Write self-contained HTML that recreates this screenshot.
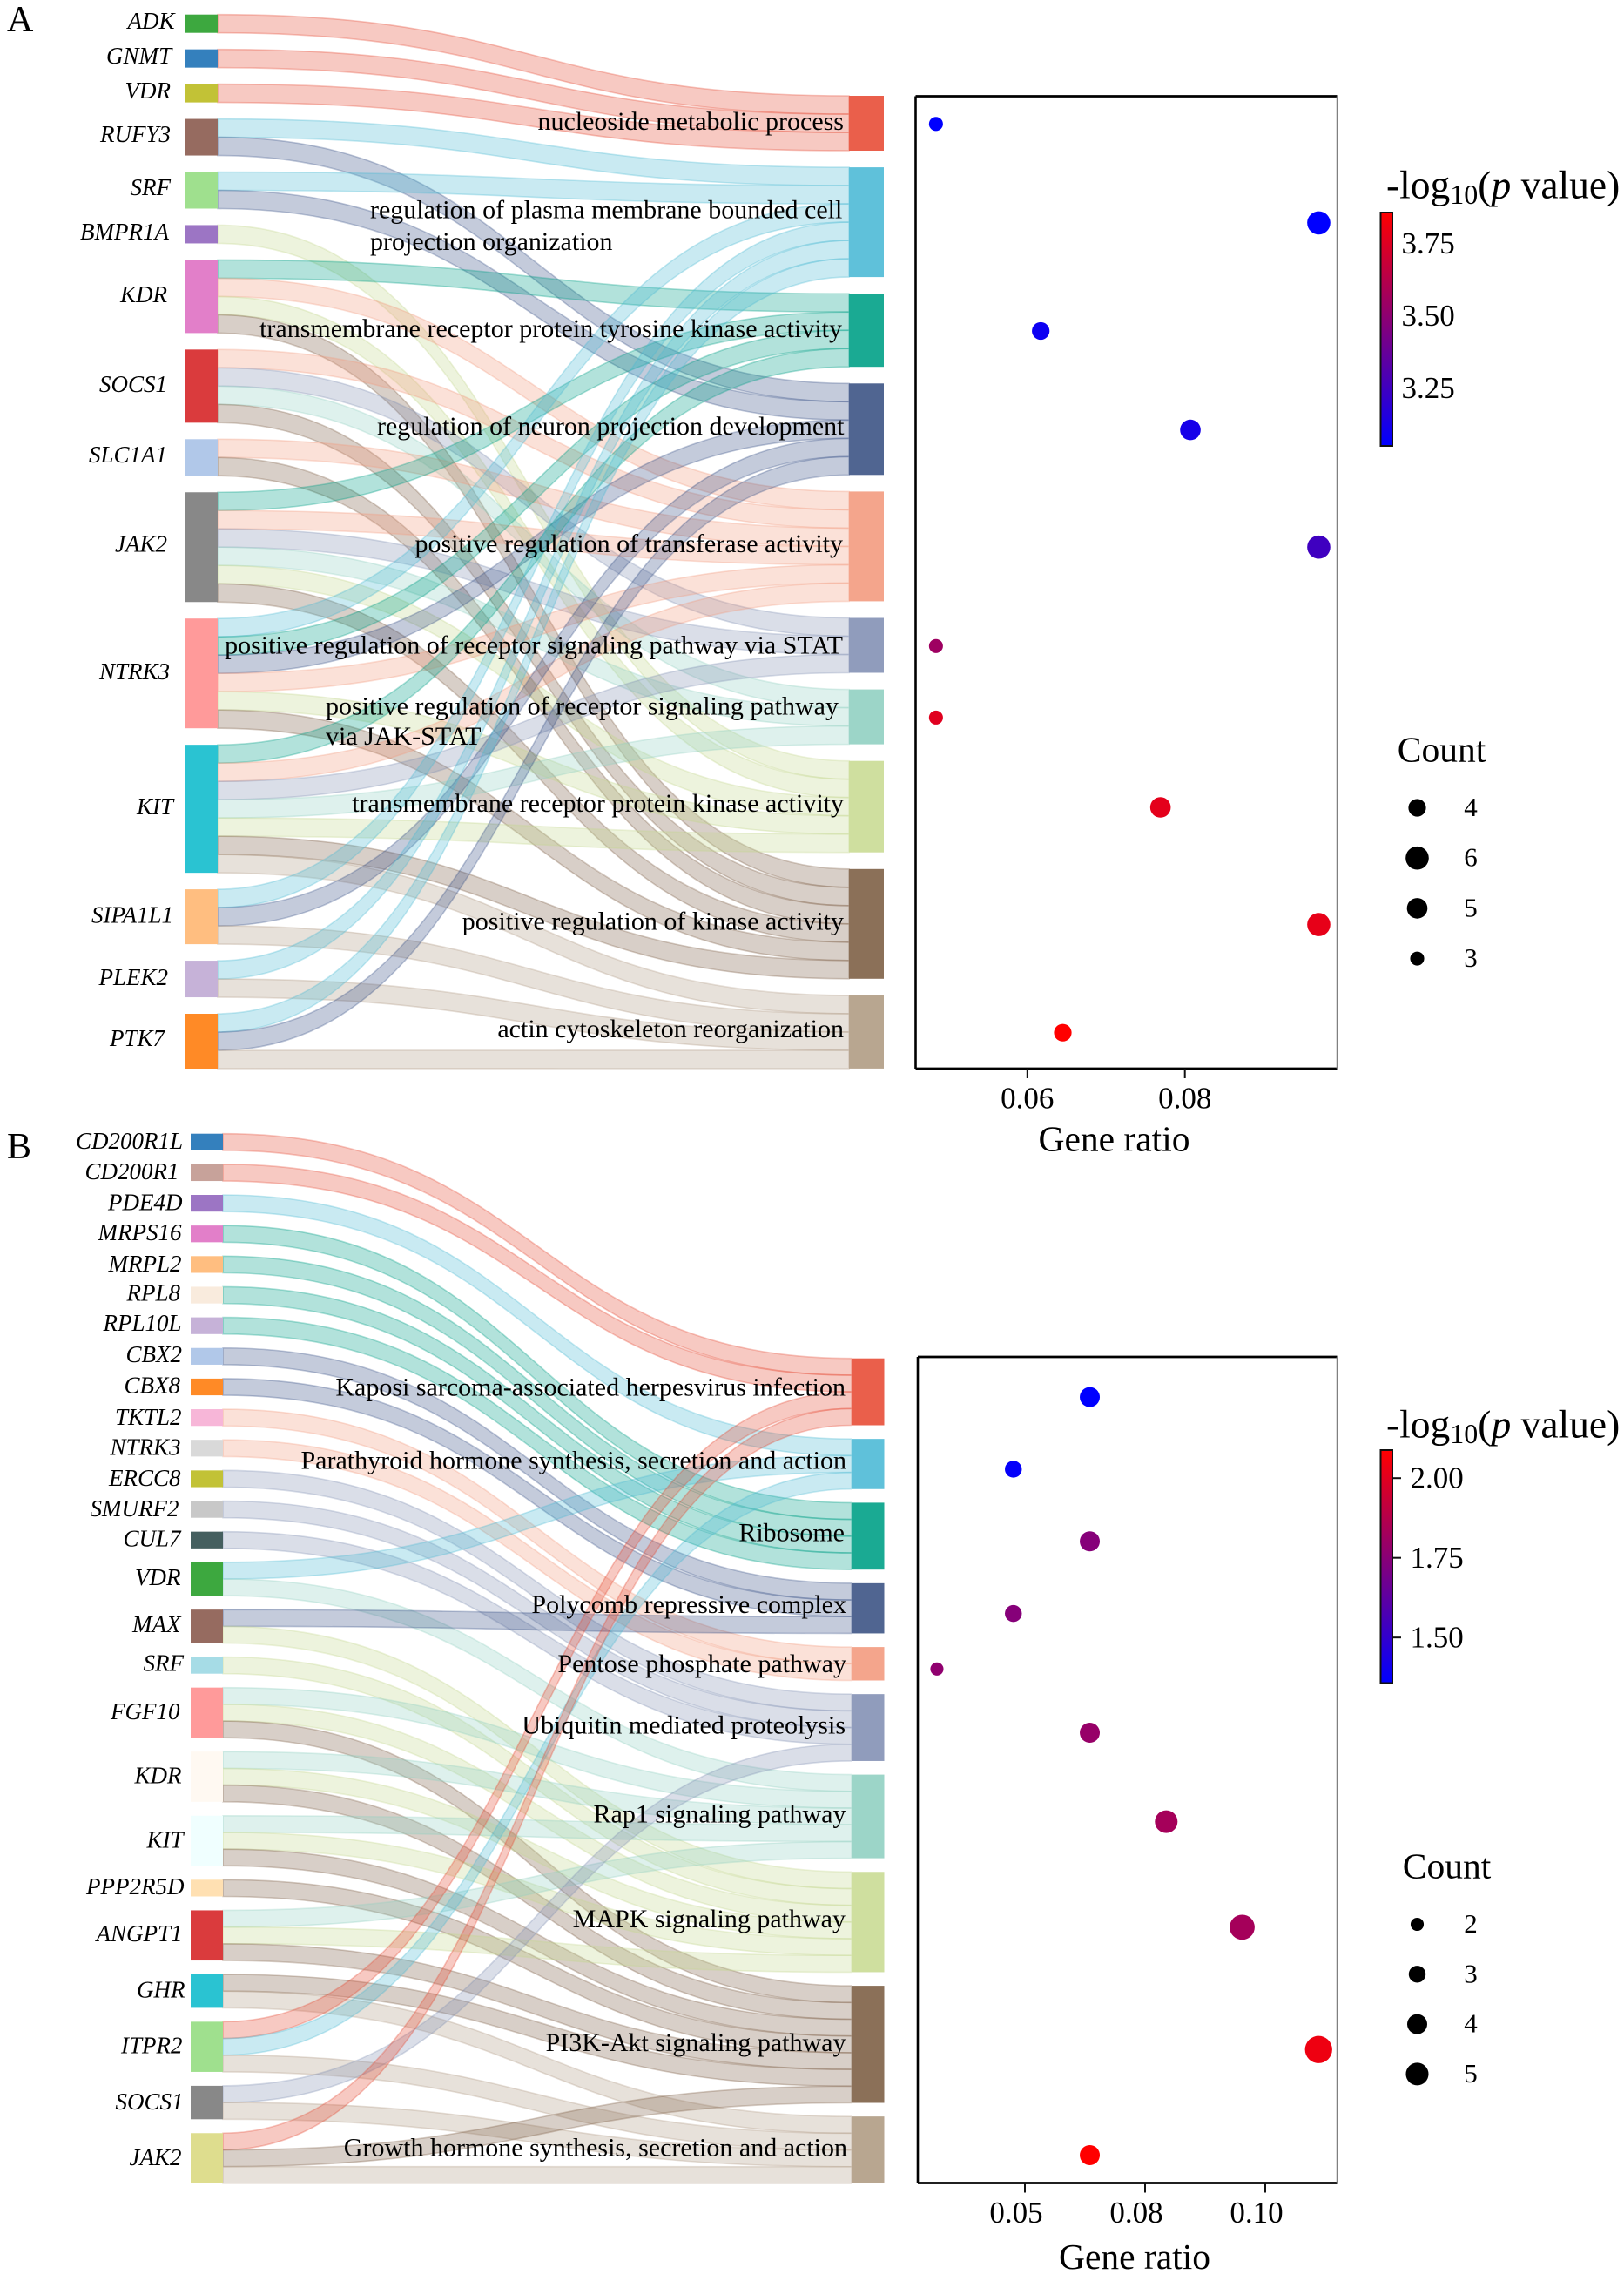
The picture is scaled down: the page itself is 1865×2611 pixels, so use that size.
<!DOCTYPE html>
<html lang="en">
<head>
<meta charset="utf-8">
<title>Gene enrichment Sankey and dot plots</title>
<style>
html,body{margin:0;padding:0;background:#fff;}
svg{display:block;font-family:"Liberation Serif","Times New Roman",serif;fill:#000;}
.gene{font-size:27px;font-style:italic;text-anchor:end;dominant-baseline:central;fill:#000;}
.geneb{font-size:27px;font-style:italic;text-anchor:end;dominant-baseline:central;fill:#000;}
.term{font-size:30px;text-anchor:end;dominant-baseline:central;fill:#000;}
.terml{font-size:30px;text-anchor:start;dominant-baseline:central;fill:#000;}
.tick{font-size:35px;text-anchor:middle;dominant-baseline:central;fill:#000;}
.cbtick{font-size:35px;text-anchor:start;dominant-baseline:central;fill:#000;}
.title{font-size:41.5px;text-anchor:middle;dominant-baseline:central;fill:#000;}
.cbtitle{font-size:45.5px;text-anchor:start;dominant-baseline:central;fill:#000;}
.lab{font-size:31px;text-anchor:middle;dominant-baseline:central;fill:#000;}
.panel{font-size:42px;fill:#000;}
</style>
</head>
<body>
<svg id="figure" xmlns="http://www.w3.org/2000/svg" width="1865" height="2611" viewBox="0 0 1865 2611">
<rect x="0" y="0" width="1865" height="2611" fill="#fff"/>
<defs>
<linearGradient id="cbGrad" x1="0" y1="1" x2="0" y2="0"><stop offset="0" stop-color="#0000ff"/><stop offset="1" stop-color="#ff0000"/></linearGradient>
</defs>

<text class="panel" x="8" y="36">A</text>
<text class="panel" x="8" y="1330">B</text>

<g id="sankeyA"></g>
<g id="sankeyB"></g>

<g>
<text class="gene" x="200.5" y="24">ADK</text>
<text class="gene" x="197" y="64">GNMT</text>
<text class="gene" x="196" y="104">VDR</text>
<text class="gene" x="196" y="154">RUFY3</text>
<text class="gene" x="196" y="215">SRF</text>
<text class="gene" x="194" y="266">BMPR1A</text>
<text class="gene" x="192" y="338">KDR</text>
<text class="gene" x="192" y="441">SOCS1</text>
<text class="gene" x="192" y="522">SLC1A1</text>
<text class="gene" x="192" y="624.5">JAK2</text>
<text class="gene" x="195" y="771">NTRK3</text>
<text class="gene" x="199" y="926">KIT</text>
<text class="gene" x="199" y="1050.5">SIPA1L1</text>
<text class="gene" x="193" y="1122">PLEK2</text>
<text class="gene" x="189" y="1192">PTK7</text>
</g>

<g>
<text class="term" x="969" y="139.5">nucleoside metabolic process</text>
<text class="terml" x="425" y="241">regulation of plasma membrane bounded cell</text>
<text class="terml" x="425" y="277.5">projection organization</text>
<text class="term" x="967" y="377.5">transmembrane receptor protein tyrosine kinase activity</text>
<text class="term" x="969.5" y="489.5">regulation of neuron projection development</text>
<text class="term" x="968" y="624.5">positive regulation of transferase activity</text>
<text class="term" x="968" y="741">positive regulation of receptor signaling pathway via STAT</text>
<text class="terml" x="374" y="811">positive regulation of receptor signaling pathway</text>
<text class="terml" x="374" y="845.5">via JAK-STAT</text>
<text class="term" x="969" y="922.5">transmembrane receptor protein kinase activity</text>
<text class="term" x="969" y="1058">positive regulation of kinase activity</text>
<text class="term" x="969" y="1181.5">actin cytoskeleton reorganization</text>
</g>

<g>
<text class="geneb" x="210" y="1310">CD200R1L</text>
<text class="geneb" x="205.5" y="1345">CD200R1</text>
<text class="geneb" x="209.5" y="1380.5">PDE4D</text>
<text class="geneb" x="208.5" y="1415">MRPS16</text>
<text class="geneb" x="208.5" y="1451">MRPL2</text>
<text class="geneb" x="207" y="1484.5">RPL8</text>
<text class="geneb" x="208.5" y="1519">RPL10L</text>
<text class="geneb" x="209" y="1555">CBX2</text>
<text class="geneb" x="207" y="1590.5">CBX8</text>
<text class="geneb" x="208.5" y="1627">TKTL2</text>
<text class="geneb" x="207.5" y="1661.5">NTRK3</text>
<text class="geneb" x="207.5" y="1697">ERCC8</text>
<text class="geneb" x="205.5" y="1732">SMURF2</text>
<text class="geneb" x="207.5" y="1766.5">CUL7</text>
<text class="geneb" x="207.5" y="1811">VDR</text>
<text class="geneb" x="207.5" y="1865">MAX</text>
<text class="geneb" x="211" y="1909.5">SRF</text>
<text class="geneb" x="206.5" y="1965">FGF10</text>
<text class="geneb" x="208.5" y="2038.5">KDR</text>
<text class="geneb" x="210.5" y="2112.5">KIT</text>
<text class="geneb" x="211.5" y="2166">PPP2R5D</text>
<text class="geneb" x="209.5" y="2220">ANGPT1</text>
<text class="geneb" x="212.5" y="2284.5">GHR</text>
<text class="geneb" x="209.5" y="2348.5">ITPR2</text>
<text class="geneb" x="210.5" y="2413">SOCS1</text>
<text class="geneb" x="208.5" y="2477">JAK2</text>
</g>

<g>
<text class="term" x="971" y="1593">Kaposi sarcoma-associated herpesvirus infection</text>
<text class="term" x="972" y="1677">Parathyroid hormone synthesis, secretion and action</text>
<text class="term" x="970" y="1760">Ribosome</text>
<text class="term" x="972" y="1842.5">Polycomb repressive complex</text>
<text class="term" x="972" y="1910.5">Pentose phosphate pathway</text>
<text class="term" x="971" y="1981">Ubiquitin mediated proteolysis</text>
<text class="term" x="971.5" y="2083">Rap1 signaling pathway</text>
<text class="term" x="971" y="2203.5">MAPK signaling pathway</text>
<text class="term" x="971.5" y="2345.5">PI3K-Akt signaling pathway</text>
<text class="term" x="973" y="2466">Growth hormone synthesis, secretion and action</text>
</g>

<g id="dotsA"></g>
<g id="dotsB"></g>

<text class="title" x="1279.5" y="1307.5">Gene ratio</text>
<text class="title" x="1303" y="2591">Gene ratio</text>

<text class="cbtitle" x="1592" y="212">-log<tspan dy="11" font-size="32">10</tspan><tspan dy="-11">(</tspan><tspan font-style="italic">p</tspan> value)</text>
<text class="cbtitle" x="1592" y="1635">-log<tspan dy="11" font-size="32">10</tspan><tspan dy="-11">(</tspan><tspan font-style="italic">p</tspan> value)</text>

<text class="title" x="1655.5" y="860.5">Count</text>
<text class="title" x="1661.5" y="2142.5">Count</text>
</svg>

<script>
// ---------- Panel A data ----------
const genesA = ["ADK","GNMT","VDR","RUFY3","SRF","BMPR1A","KDR","SOCS1","SLC1A1","JAK2","NTRK3","KIT","SIPA1L1","PLEK2","PTK7"];
const termsA = ["nucleoside metabolic process","regulation of plasma membrane bounded cell projection organization","transmembrane receptor protein tyrosine kinase activity","regulation of neuron projection development","positive regulation of transferase activity","positive regulation of receptor signaling pathway via STAT","positive regulation of receptor signaling pathway via JAK-STAT","transmembrane receptor protein kinase activity","positive regulation of kinase activity","actin cytoskeleton reorganization"];
// term index list for every gene
const geneTermsA = [[0],[0],[0],[1,3],[1,3],[7],[2,4,7,8],[4,5,6,8],[4,8],[2,4,5,6,7,8],[1,2,3,4,7,8],[2,4,5,6,7,8,9],[1,3,9],[1,9],[1,3,9]];
const geneRatioA = [0.0484,0.097,0.0617,0.0807,0.097,0.0484,0.0484,0.0769,0.097,0.0645];
const logPA = [3.05,3.05,3.09,3.12,3.25,3.55,3.76,3.77,3.78,3.857];
const countA = [3,6,4,5,6,3,3,5,6,4];
const xTicksA = [0.06,0.08];
const xTickLabelsA = ["0.06","0.08"];
const cbTicksA = [3.25,3.50,3.75];
const cbTickLabelsA = ["3.25","3.50","3.75"];
const legendCountsA = [4,6,5,3];

// ---------- Panel B data ----------
const genesB = ["CD200R1L","CD200R1","PDE4D","MRPS16","MRPL2","RPL8","RPL10L","CBX2","CBX8","TKTL2","NTRK3","ERCC8","SMURF2","CUL7","VDR","MAX","SRF","FGF10","KDR","KIT","PPP2R5D","ANGPT1","GHR","ITPR2","SOCS1","JAK2"];
const termsB = ["Kaposi sarcoma-associated herpesvirus infection","Parathyroid hormone synthesis, secretion and action","Ribosome","Polycomb repressive complex","Pentose phosphate pathway","Ubiquitin mediated proteolysis","Rap1 signaling pathway","MAPK signaling pathway","PI3K-Akt signaling pathway","Growth hormone synthesis, secretion and action"];
const geneTermsB = [[0],[0],[1],[2],[2],[2],[2],[3],[3],[4],[4],[5],[5],[5],[1,6],[3,7],[7],[6,7,8],[6,7,8],[6,7,8],[8],[6,7,8],[8,9],[0,1,9],[5,9],[0,8,9]];
const geneRatioB = [0.0635,0.0476,0.0635,0.0476,0.0317,0.0635,0.0794,0.0952,0.1111,0.0635];
const logPB = [1.357,1.37,1.74,1.74,1.77,1.79,1.83,1.83,2.04,2.088];
const countB = [4,3,4,3,2,4,5,6,7,4];
const xTicksB = [0.05,0.075,0.10];
const xTickLabelsB = ["0.05","0.08","0.10"];
const cbTicksB = [1.50,1.75,2.00];
const cbTickLabelsB = ["1.50","1.75","2.00"];
const legendCountsB = [2,3,4,5];

// ---------- Colours ----------
const termFill = ["#ea5f4b","#5fc1da","#1aaa93","#506591","#f4a58c","#909cbc","#9cd5c8","#cfdf9f","#8b7058","#b8a690"];
const termBase = ["#e64b35","#4dbbd5","#00a087","#3c5488","#f39b7f","#8491b4","#91d1c2","#c5d88e","#7e6148","#b09c85"];
const geneFillA = ["#3da83f","#3480bd","#c2c236","#966b60","#9fe08e","#9c75c4","#e27fc9","#da3b3d","#b1c8e9","#888888","#ff9a9a","#2ac3d2","#ffbe80","#c6b2d8","#ff8a26"];
const geneFillB = ["#3480bd","#c7a29a","#9c75c4","#e27fc9","#ffbe80","#f9ebdd","#c6b2d8","#b1c8e9","#ff8a26","#f7b6d8","#d9d9d9","#c2c236","#c8c8c8","#455f5f","#3da83f","#966b60","#a6dce6","#ff9a9a","#fff9f2","#f0ffff","#ffe0b2","#da3b3d","#2ac3d2","#9fe08e","#888888","#dedd8e"];

const NS = "http://www.w3.org/2000/svg";
function mk(tag, parent){
  const el = document.createElementNS(NS, tag);
  parent.appendChild(el);
  return el;
}
function set(el, attrs){
  for (const k in attrs) el.setAttribute(k, attrs[k]);
  return el;
}

// ---------- Sankey ----------
function drawSankey(host, genes, terms, geneTerms, geneFill, g){
  const incoming = terms.map(() => 0);
  geneTerms.forEach(list => list.forEach(t => { incoming[t] += 1; }));
  // term node tops
  const termTop = [];
  let yR = g.rightTop;
  terms.forEach((t, i) => { termTop.push(yR); yR += incoming[i] * g.unit + g.gapR; });
  const termCursor = termTop.slice();
  const linkLayer = mk("g", host);
  
  
  const nodeLayer = mk("g", host);
  
  
  let yL = g.leftTop;
  genes.forEach((gene, i) => {
    const h = geneTerms[i].length * g.unit;
    const node = mk("rect", nodeLayer);
    
    
    set(node, {x: g.x0, y: yL, width: g.x1 - g.x0, height: h, fill: geneFill[i]});
    let ys = yL;
    geneTerms[i].forEach(t => {
      const yt = termCursor[t];
      const mx = (g.x1 + g.x2) / 2;
      const d = "M" + g.x1 + " " + ys + "C" + mx + " " + ys + " " + mx + " " + yt + " " + g.x2 + " " + yt +
                "L" + g.x2 + " " + (yt + g.unit) + "C" + mx + " " + (yt + g.unit) + " " + mx + " " + (ys + g.unit) + " " + g.x1 + " " + (ys + g.unit) + "Z";
      const link = mk("path", linkLayer);
      
      
      set(link, {d: d, fill: termBase[t], "fill-opacity": 0.3, stroke: termBase[t], "stroke-opacity": 0.32, "stroke-width": 1.6});
      ys += g.unit;
      termCursor[t] = yt + g.unit;
    });
    yL += h + g.gapL;
  });
  terms.forEach((t, i) => {
    const node = mk("rect", nodeLayer);
    
    
    set(node, {x: g.x2, y: termTop[i], width: g.x3 - g.x2, height: incoming[i] * g.unit, fill: termFill[i]});
  });
  return terms.map((t, i) => termTop[i] + incoming[i] * g.unit / 2);
}

// ---------- Dot plot ----------
function heat(v, lo, hi){
  const t = Math.max(0, Math.min(1, (v - lo) / (hi - lo)));
  return "rgb(" + Math.round(255 * t) + ",0," + Math.round(255 * (1 - t)) + ")";
}
function drawDots(host, p){
  const lo = Math.min.apply(null, p.logP);
  const hi = Math.max.apply(null, p.logP);
  const radius = c => Math.sqrt(p.areaBase + 37.5 * c);
  // spines
  const sides = [
    [p.left, p.top, p.left, p.bottom, "#000", 2.6],
    [p.left, p.bottom, p.right, p.bottom, "#000", 2.8],
    [p.left, p.top, p.right, p.top, "#000", 2.8],
    [p.right, p.top, p.right, p.bottom, "#808080", 1.5]
  ];
  sides.forEach(s => {
    const ln = mk("line", host);
    
    
    set(ln, {x1: s[0], y1: s[1], x2: s[2], y2: s[3], stroke: s[4], "stroke-width": s[5]});
  });
  // x ticks
  p.xTicks.forEach((v, i) => {
    const x = p.xScale(v);
    const ln = mk("line", host);
    
    
    set(ln, {x1: x, y1: p.bottom, x2: x, y2: p.bottom + 11, stroke: "#111", "stroke-width": 2});
    const tx = mk("text", host);
    
    
    set(tx, {"class": "tick", x: x + p.labelShift, y: p.tickLabelY});
    tx.textContent = p.xTickLabels[i];
  });
  // points
  p.ratio.forEach((v, i) => {
    const c = mk("circle", host);
    
    
    set(c, {cx: p.xScale(v), cy: p.yScale(i), r: radius(p.count[i]), fill: heat(p.logP[i], lo, hi)});
  });
  // colour bar
  const cbY = v => p.cbBottom - (v - lo) / (hi - lo) * (p.cbBottom - p.cbTop);
  const bar = mk("rect", host);
  
  
  set(bar, {x: 1585.5, y: p.cbTop, width: 13.5, height: p.cbBottom - p.cbTop, fill: "url(#cbGrad)", stroke: "#111", "stroke-width": 2});
  p.cbTicks.forEach((v, i) => {
    const y = cbY(v);
    if (p.cbMarks) {
      const ln = mk("line", host);
      
      
      set(ln, {x1: 1599, y1: y, x2: 1609, y2: y, stroke: "#111", "stroke-width": 2});
    }
    const tx = mk("text", host);
    
    
    set(tx, {"class": "cbtick", x: p.cbLabelX, y: y});
    tx.textContent = p.cbLabels[i];
  });
  // size legend
  p.legend.forEach((c, i) => {
    const y = p.legendY + i * p.legendStep;
    const dot = mk("circle", host);
    
    
    set(dot, {cx: 1627.5, cy: y, r: radius(c), fill: "#000"});
    const tx = mk("text", host);
    
    
    set(tx, {"class": "lab", x: 1689, y: y - 1});
    tx.textContent = String(c);
  });
}

// ---------- Build ----------
const centersA = drawSankey(document.getElementById("sankeyA"), genesA, termsA, geneTermsA, geneFillA,
  {leftTop: 16.7, rightTop: 110, unit: 21, gapL: 18.95, gapR: 19.1, x0: 213, x1: 250, x2: 975, x3: 1015});
const centersB = drawSankey(document.getElementById("sankeyB"), genesB, termsB, geneTermsB, geneFillB,
  {leftTop: 1301.7, rightTop: 1559.7, unit: 19.2, gapL: 15.95, gapR: 15.65, x0: 219, x1: 256, x2: 978, x3: 1015.5});

drawDots(document.getElementById("dotsA"), {
  left: 1051.5, right: 1535.5, top: 110.5, bottom: 1227,
  xScale: v => 1179.8 + (v - 0.06) * 9045,
  yScale: i => centersA[i] + 0.8,
  ratio: geneRatioA, logP: logPA, count: countA,
  xTicks: xTicksA, xTickLabels: xTickLabelsA, labelShift: 0, tickLabelY: 1261,
  cbTop: 244, cbBottom: 512, cbTicks: cbTicksA, cbLabels: cbTickLabelsA, cbMarks: false, cbLabelX: 1609.5,
  legend: legendCountsA, legendY: 927.5, legendStep: 57.7, areaBase: -48
});
drawDots(document.getElementById("dotsB"), {
  left: 1054, right: 1535.5, top: 1558, bottom: 2506.5,
  xScale: v => 1177 + (v - 0.05) * 5520,
  yScale: i => centersB[i] + 6,
  ratio: geneRatioB, logP: logPB, count: countB,
  xTicks: xTicksB, xTickLabels: xTickLabelsB, labelShift: -10, tickLabelY: 2540.5,
  cbTop: 1665, cbBottom: 1932.5, cbTicks: cbTicksB, cbLabels: cbTickLabelsB, cbMarks: true, cbLabelX: 1619.5,
  legend: legendCountsB, legendY: 2209.5, legendStep: 57.3, areaBase: -18
});
</script>
</body>
</html>
